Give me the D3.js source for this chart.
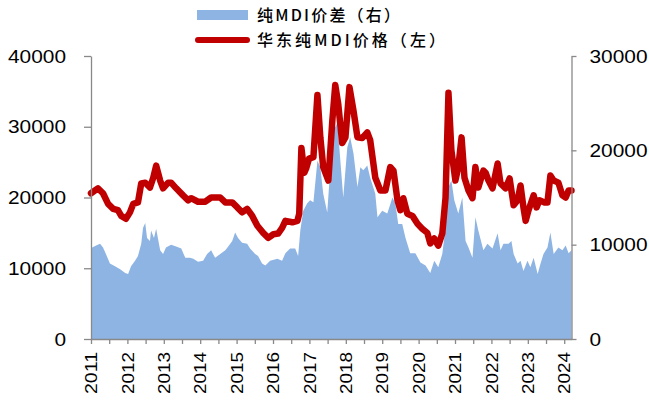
<!DOCTYPE html>
<html><head><meta charset="utf-8">
<script src="https://cdn.jsdelivr.net/npm/d3@7"></script>
<style>body{margin:0;background:#fff}</style>
</head><body>
<svg id="c" width="649" height="403"></svg>
<script>
// ---- DATA ----
const priceDates = [
 2011.00,2011.19,2011.33,2011.47,2011.61,2011.74,2011.83,2011.96,
 2012.07,2012.16,2012.29,2012.38,2012.49,2012.62,2012.71,2012.79,2012.90,2012.98,
 2013.12,2013.20,2013.34,2013.53,2013.67,2013.75,2013.94,
 2014.14,2014.30,2014.55,2014.69,2014.88,
 2015.02,2015.15,2015.29,2015.43,2015.57,2015.73,2015.87,
 2016.01,2016.14,2016.25,2016.34,2016.53,2016.67,2016.72,2016.78,2016.86,2016.91,2016.99,
 2017.11,2017.22,2017.30,2017.38,2017.52,2017.63,2017.71,2017.79,2017.90,2017.99,
 2018.10,2018.21,2018.32,2018.45,2018.59,2018.67,2018.81,2018.95,
 2019.09,2019.22,2019.31,2019.42,2019.50,2019.58,2019.69,2019.83,2019.97,
 2020.10,2020.24,2020.32,2020.43,2020.54,2020.65,2020.74,2020.82,2020.90,
 2021.01,2021.09,2021.18,2021.26,2021.37,2021.48,2021.56,2021.64,2021.78,2021.84,2021.92,
 2022.03,2022.17,2022.25,2022.39,2022.50,2022.61,2022.72,2022.80,2022.88,2022.94,
 2023.02,2023.16,2023.24,2023.32,2023.46,2023.54,2023.62,2023.71,2023.84,2023.95,
 2024.04,2024.12,2024.20];
const priceValues = [
 20600,21300,20600,19100,18400,18200,17400,17000,
 17900,19100,19300,22000,22100,21400,22800,24500,22400,21300,
 22100,22100,21300,20300,19600,19900,19400,
 19400,20000,20000,19300,19300,
 18600,17900,18400,17400,16000,15000,14300,
 14800,14900,15700,16700,16500,16700,17700,27000,23500,24100,25500,
 25700,34500,28500,24300,22400,30900,35900,33300,27700,28500,
 35600,32300,28500,28400,29200,28100,22800,21000,
 21000,24300,23800,19600,18200,19900,17700,17400,16300,
 15600,15000,13500,14200,13200,14900,20000,34800,26700,
 22400,24300,28500,22800,21000,19900,24300,21400,23800,23500,22400,
 21300,24800,22000,21300,22700,18900,19600,21700,18600,16700,
 18200,20300,18600,19600,19300,19300,23100,22400,22100,20300,
 20000,21000,21000];

const spreadDates = [
 2011.00,2011.03,2011.14,2011.25,2011.33,2011.41,2011.52,2011.66,2011.80,2011.94,
 2012.02,2012.10,2012.21,2012.29,2012.38,2012.43,2012.49,2012.54,2012.62,2012.65,2012.73,2012.79,2012.90,2012.98,
 2013.06,2013.20,2013.34,2013.48,2013.59,2013.72,2013.81,2013.94,
 2014.08,2014.19,2014.30,2014.41,2014.55,2014.69,2014.77,2014.88,2014.96,
 2015.04,2015.15,2015.29,2015.37,2015.51,2015.59,2015.70,2015.79,2015.92,
 2016.12,2016.25,2016.34,2016.47,2016.61,2016.69,2016.75,2016.83,2016.94,
 2017.02,2017.11,2017.22,2017.30,2017.38,2017.49,2017.57,2017.66,2017.77,2017.85,2017.93,
 2018.04,2018.12,2018.21,2018.32,2018.40,2018.48,2018.59,2018.67,2018.81,2018.87,
 2019.00,2019.14,2019.28,2019.36,2019.44,2019.55,2019.64,2019.77,2019.91,
 2020.05,2020.19,2020.32,2020.43,2020.54,2020.65,2020.74,2020.82,2020.90,2020.98,
 2021.09,2021.20,2021.29,2021.37,2021.48,2021.56,2021.64,2021.78,2021.89,
 2022.03,2022.17,2022.25,2022.33,2022.47,2022.55,2022.61,2022.72,2022.80,2022.88,2022.99,
 2023.07,2023.16,2023.27,2023.35,2023.43,2023.54,2023.62,2023.71,2023.84,2023.95,
 2024.04,2024.12,2024.20];
const spreadValues = [
 8800,9700,9900,10100,9700,9000,8000,7700,7400,7000,
 6900,7700,8300,8800,10100,11800,12300,10700,10400,11500,10700,11700,9400,9000,
 9700,10000,9800,9600,8600,8600,8500,8200,
 8300,9000,9400,8600,9000,9400,9800,10400,11300,
 10700,10200,10100,9600,9000,8800,8000,7800,8300,
 8500,8300,9100,9600,9600,8800,11500,13600,14400,
 14700,14500,18900,18200,15400,13400,17900,22100,22900,18900,15000,
 20300,21400,19700,16100,18200,17900,18400,17100,15400,12900,
 13600,13300,15000,14400,12200,12200,10700,9100,9100,
 8100,7800,7000,8300,7600,9000,11800,16100,16800,14700,
 13300,15000,10400,9700,8600,12900,11500,9400,10100,
 9600,11200,9400,10100,10100,10400,9000,8000,8300,7200,8300,
 7600,8600,6900,8000,9000,9700,11300,9000,9700,9400,
 9900,9100,9400];

const leftTicks = [0, 10000, 20000, 30000, 40000];
const rightTicks = [0, 10000, 20000, 30000];
const yearLabels = [2011,2012,2013,2014,2015,2016,2017,2018,2019,2020,2021,2022,2023,2024];
const legendLabels = ["纯MDI价差（右）", "华东纯MDI价格（左）"];

// ---- CHART ----
const svg = d3.select("#c");
const x = d3.scaleLinear().domain([2011, 2024.2]).range([91, 571.5]);
const yL = d3.scaleLinear().domain([0, 40000]).range([339, 56]);
const yR = d3.scaleLinear().domain([0, 30000]).range([339, 56]);
const blue = "#8EB4E3", red = "#C00000", axisCol = "#898989";
const numFont = "'Liberation Sans', Arial, sans-serif";

const spread = spreadDates.map((d, i) => ({t: d, v: spreadValues[i]}));
const price = priceDates.map((d, i) => ({t: d, v: priceValues[i]}));

svg.append("path").datum(spread)
  .attr("fill", blue)
  .attr("d", d3.area().x(d => x(d.t)).y0(yR(0)).y1(d => yR(d.v)));

svg.append("path").datum(price)
  .attr("fill", "none").attr("stroke", red).attr("stroke-width", 6.5)
  .attr("stroke-linejoin", "round").attr("stroke-linecap", "round")
  .attr("d", d3.line().x(d => x(d.t)).y(d => yL(d.v)));

function styleAxis(g) {
  g.select(".domain").attr("stroke", axisCol).attr("stroke-width", 1.3);
  g.selectAll(".tick line").attr("stroke", axisCol).attr("stroke-width", 1.3);
  g.selectAll("text").attr("fill", "#000").style("font-family", numFont).style("font-size", "19px");
}

const gl = svg.append("g").attr("transform", "translate(91,0)")
  .call(d3.axisLeft(yL).tickValues(leftTicks).tickSize(7).tickSizeOuter(0).tickPadding(18).tickFormat(d3.format("d")));
styleAxis(gl);
gl.selectAll("text").attr("textLength", d => String(d).length * 11.6).attr("lengthAdjust", "spacingAndGlyphs");

const gr = svg.append("g").attr("transform", "translate(571.5,0)")
  .call(d3.axisRight(yR).tickValues(rightTicks).tickSize(5).tickSizeOuter(0).tickPadding(13).tickFormat(d3.format("d")));
styleAxis(gr);
gr.selectAll("text").attr("textLength", d => String(d).length * 11.6).attr("lengthAdjust", "spacingAndGlyphs");

const halfTicks = [];
yearLabels.forEach(y => { halfTicks.push(y); if (y + 0.5 <= 2024.2) halfTicks.push(y + 0.5); });
const gb = svg.append("g").attr("transform", "translate(0,339)")
  .call(d3.axisBottom(x).tickValues(halfTicks).tickSize(5).tickSizeOuter(0).tickFormat(""));
styleAxis(gb);

svg.append("g").selectAll("text").data(yearLabels).join("text")
  .attr("transform", d => `translate(${x(d)},352) rotate(-90)`)
  .attr("text-anchor", "end").attr("dy", "0.36em")
  .style("font-family", numFont).style("font-size", "17px").attr("fill", "#000")
  .attr("textLength", 42).attr("lengthAdjust", "spacingAndGlyphs")
  .text(d => d);

// ---- LEGEND ----
const lg = svg.append("g");
lg.append("rect").attr("x", 197).attr("y", 10).attr("width", 51).attr("height", 10).attr("fill", blue);
lg.append("line").attr("x1", 198).attr("x2", 247).attr("y1", 40).attr("y2", 40)
  .attr("stroke", red).attr("stroke-width", 6).attr("stroke-linecap", "round");
lg.selectAll("text").data(legendLabels).join("text")
  .attr("x", 257).attr("y", (d, i) => i === 0 ? 21 : 46)
  .style("font-family", "'Noto Sans CJK SC', sans-serif").style("font-size", "16px")
  .style("font-weight", "500").attr("fill", "#000")
  .attr("textLength", (d, i) => i === 0 ? 143 : 188).attr("lengthAdjust", "spacing")
  .text(d => d);
</script>
</body></html>
